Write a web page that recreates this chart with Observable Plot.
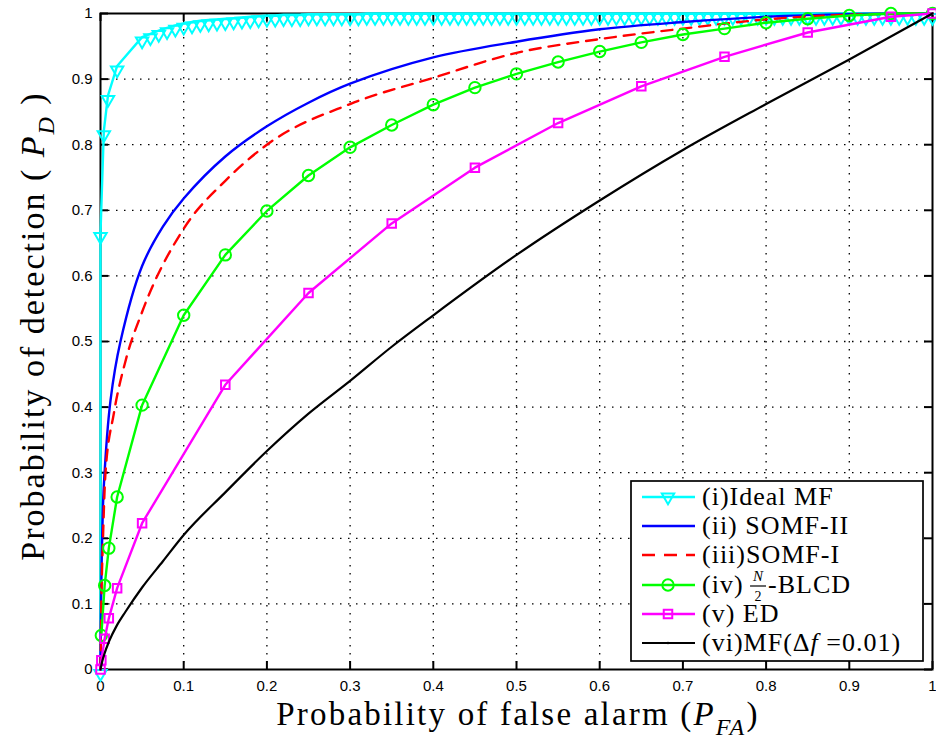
<!DOCTYPE html>
<html><head><meta charset="utf-8">
<script src="https://cdn.jsdelivr.net/npm/d3@7"></script>
<script src="https://cdn.jsdelivr.net/npm/@observablehq/plot@0.6"></script>
<style>html,body{margin:0;padding:0;background:#fff;} svg{display:block}</style>
</head><body><div id="chart"></div>
<script>
// ---------- data ----------
const axisTicks = [0, 0.1, 0.2, 0.3, 0.4, 0.5, 0.6, 0.7, 0.8, 0.9, 1];
const axisTickLabels = ["0", "0.1", "0.2", "0.3", "0.4", "0.5", "0.6", "0.7", "0.8", "0.9", "1"];

// (i) Ideal MF
const idealX = [0, 0, 0.004, 0.009, 0.02, 0.05, 0.06, 0.07, 0.08, 0.09, 0.10, 0.11, 0.12, 0.13, 0.14, 0.15, 0.16, 0.17, 0.18, 0.19, 0.20,
  0.21, 0.22, 0.23, 0.24, 0.25, 0.26, 0.27, 0.28, 0.29, 0.30, 0.31, 0.32, 0.33, 0.34, 0.35, 0.36, 0.37, 0.38, 0.39, 0.40,
  0.41, 0.42, 0.43, 0.44, 0.45, 0.46, 0.47, 0.48, 0.49, 0.50, 0.51, 0.52, 0.53, 0.54, 0.55, 0.56, 0.57, 0.58, 0.59, 0.60,
  0.61, 0.62, 0.63, 0.64, 0.65, 0.66, 0.67, 0.68, 0.69, 0.70, 0.71, 0.72, 0.73, 0.74, 0.75, 0.76, 0.77, 0.78, 0.79, 0.80,
  0.81, 0.82, 0.83, 0.84, 0.85, 0.86, 0.87, 0.88, 0.89, 0.90, 0.91, 0.92, 0.93, 0.94, 0.95, 0.96, 0.97, 0.98, 0.99, 1.00];
const idealY = [0, 0.666, 0.821, 0.875, 0.920, 0.964, 0.969, 0.974, 0.978, 0.982, 0.985, 0.987, 0.989, 0.990, 0.991, 0.992, 0.993, 0.994, 0.995, 0.996, 0.997,
  0.997, 0.998, 0.998, 0.998, 0.999, 0.999, 0.999, 0.999, 0.999, 0.999, 0.999, 1, 1, 1, 1, 1, 1, 1, 1, 1,
  1, 1, 1, 1, 1, 1, 1, 1, 1, 1, 1, 1, 1, 1, 1, 1, 1, 1, 1, 1,
  1, 1, 1, 1, 1, 1, 1, 1, 1, 1, 1, 1, 1, 1, 1, 1, 1, 1, 1, 1,
  1, 1, 1, 1, 1, 1, 1, 1, 1, 1, 1, 1, 1, 1, 1, 1, 1, 1, 1, 1];

// (ii) SOMF-II
const somf2X = [0, 0.001, 0.002, 0.004, 0.012, 0.024, 0.05, 0.075, 0.1, 0.15, 0.2, 0.25, 0.3, 0.4, 0.5, 0.6, 0.7, 0.8, 0.9, 1];
const somf2Y = [0, 0.13, 0.2, 0.28, 0.41, 0.50, 0.615, 0.675, 0.718, 0.782, 0.828, 0.864, 0.893, 0.933, 0.957, 0.976, 0.987, 0.995, 0.999, 1];

// (iii) SOMF-I
const somf1X = [0, 0.001, 0.003, 0.006, 0.016, 0.03, 0.05, 0.1, 0.15, 0.2, 0.3, 0.4, 0.5, 0.6, 0.7, 0.8, 0.9, 1];
const somf1Y = [0, 0.10, 0.20, 0.30, 0.39, 0.47, 0.545, 0.672, 0.745, 0.80, 0.862, 0.902, 0.94, 0.961, 0.977, 0.991, 0.998, 1];

// (iv) N/2-BLCD
const blcdX = [0.001, 0.005, 0.01, 0.02, 0.05, 0.1, 0.15, 0.2, 0.25, 0.3, 0.35, 0.4, 0.45, 0.5, 0.55, 0.6, 0.65, 0.7, 0.75, 0.8, 0.85, 0.9, 0.95, 1];
const blcdY = [0.052, 0.128, 0.185, 0.263, 0.403, 0.540, 0.632, 0.699, 0.753, 0.796, 0.830, 0.861, 0.887, 0.908, 0.926, 0.942, 0.956, 0.968, 0.977, 0.986, 0.992, 0.997, 1.0, 1.0];

// (v) ED
const edX = [0, 0.001, 0.005, 0.01, 0.02, 0.05, 0.15, 0.25, 0.35, 0.45, 0.55, 0.65, 0.75, 0.85, 0.95, 1];
const edY = [0, 0.014, 0.047, 0.078, 0.124, 0.223, 0.434, 0.574, 0.680, 0.765, 0.833, 0.889, 0.934, 0.971, 0.995, 1];

// (vi) MF (Δf = 0.01)
const mfX = [0, 0.002, 0.005, 0.01, 0.02, 0.03, 0.05, 0.075, 0.1, 0.15, 0.2, 0.25, 0.3, 0.35, 0.4, 0.5, 0.6, 0.7, 0.8, 0.9, 1];
const mfY = [0, 0.012, 0.025, 0.042, 0.068, 0.088, 0.125, 0.165, 0.205, 0.27, 0.333, 0.39, 0.44, 0.492, 0.54, 0.632, 0.715, 0.792, 0.862, 0.93, 1];

const legendPrefixes = ["(i)", "(ii) ", "(iii)", "(iv) ", "(v) ", "(vi)"];
const legendNames = ["Ideal MF", "SOMF-II", "SOMF-I", "-BLCD", "ED", "MF("];
const seriesColors = ["#00ffff", "#0000ff", "#ff0000", "#00ff00", "#ff00ff", "#000000"];

const xTitle = "Probability of false alarm (";
const yTitle = "Probability of detection ( ";

// ---------- build ----------
const pts = (xs, ys) => xs.map((x, i) => ({x, y: ys[i]}));
const ideal = pts(idealX, idealY), somf2 = pts(somf2X, somf2Y), somf1 = pts(somf1X, somf1Y);
const blcd = pts(blcdX, blcdY), ed = pts(edX, edY), mf = pts(mfX, mfY);

const W = 936, H = 749, mL = 100, mR = 4, mT = 13, mB = 80;
const fh = H - mT - mB, fw = W - mL - mR, tl = 8;
const fmt = d => { const i = axisTicks.indexOf(d); return i >= 0 ? axisTickLabels[i] : d3.format("~g")(d); };
const inner = axisTicks.slice(1, -1);
const SERIF = "Liberation Serif, Times New Roman, serif";

const plot = Plot.plot({
  width: W, height: H, marginLeft: mL, marginRight: mR, marginTop: mT, marginBottom: mB,
  x: {domain: [0, 1]}, y: {domain: [0, 1]},
  style: {fontFamily: "Liberation Sans, Arial, sans-serif", fontSize: "15px", color: "black", background: "white", overflow: "visible"},
  marks: [
    Plot.gridX(inner, {stroke: "black", strokeOpacity: 1, strokeWidth: 1.3, strokeDasharray: "1.5,6.5"}),
    Plot.gridY(inner, {stroke: "black", strokeOpacity: 1, strokeWidth: 1.3, strokeDasharray: "1.5,6.5"}),
    Plot.frame({stroke: "black", strokeWidth: 2}),
    Plot.tickX(axisTicks, {x: d => d, stroke: "black", strokeWidth: 2, insetTop: fh - tl}),
    Plot.tickX(axisTicks, {x: d => d, stroke: "black", strokeWidth: 2, insetBottom: fh - tl}),
    Plot.tickY(axisTicks, {y: d => d, stroke: "black", strokeWidth: 2, insetRight: fw - tl}),
    Plot.tickY(axisTicks, {y: d => d, stroke: "black", strokeWidth: 2, insetLeft: fw - tl}),
    Plot.axisX(axisTicks, {tickSize: 0, tickPadding: 11, tickFormat: fmt, label: null, fontSize: 15}),
    Plot.axisY(axisTicks, {tickSize: 0, tickPadding: 8, tickFormat: fmt, label: null, fontSize: 15}),
    // (i)
    Plot.line(ideal, {x: "x", y: "y", stroke: seriesColors[0], strokeWidth: 2.4}),
    Plot.dot(ideal, {x: "x", y: "y", symbol: "triangle", rotate: 180, r: 4.6, dy: 4, stroke: seriesColors[0], strokeWidth: 2, fill: "none"}),
    // (ii)
    Plot.line(somf2, {x: "x", y: "y", stroke: seriesColors[1], strokeWidth: 2.4, curve: "catmull-rom"}),
    // (iii)
    Plot.line(somf1, {x: "x", y: "y", stroke: seriesColors[2], strokeWidth: 2.4, strokeDasharray: "11,8", curve: "monotone-x"}),
    // (iv)
    Plot.line(blcd, {x: "x", y: "y", stroke: seriesColors[3], strokeWidth: 2.4}),
    Plot.dot(blcd, {x: "x", y: "y", r: 5.7, stroke: seriesColors[3], strokeWidth: 2, fill: "none"}),
    // (v)
    Plot.line(ed, {x: "x", y: "y", stroke: seriesColors[4], strokeWidth: 2.4}),
    Plot.dot(ed, {x: "x", y: "y", symbol: "square", r: 4.8, stroke: seriesColors[4], strokeWidth: 2, fill: "none"}),
    // (vi)
    Plot.line(mf, {x: "x", y: "y", stroke: seriesColors[5], strokeWidth: 2.2, curve: "monotone-x"})
  ]
});
document.getElementById("chart").appendChild(plot);

// ---------- titles ----------
const svg = d3.select(plot);
const g = svg.append("g").attr("font-family", SERIF).attr("fill", "black");
const xt = g.append("text").attr("x", 518).attr("y", 725).attr("text-anchor", "middle").attr("font-size", 33).attr("letter-spacing", "2.2px");
xt.append("tspan").text(xTitle);
xt.append("tspan").attr("font-style", "italic").text("P");
xt.append("tspan").attr("font-style", "italic").attr("font-size", 24).attr("dy", 10).text("FA");
xt.append("tspan").attr("dy", -10).text(")");

const yt = g.append("text").attr("transform", "translate(44,326) rotate(-90)").attr("text-anchor", "middle").attr("font-size", 34).attr("letter-spacing", "2px");
yt.append("tspan").text(yTitle);
yt.append("tspan").attr("font-style", "italic").text("P");
yt.append("tspan").attr("font-style", "italic").attr("font-size", 24).attr("dy", 10).text("D");
yt.append("tspan").attr("dy", -10).text(" )");

// ---------- legend ----------
const lg = svg.append("g").attr("text-anchor", "start");
lg.append("rect").attr("x", 631).attr("y", 481).attr("width", 292).attr("height", 180)
  .attr("fill", "white").attr("stroke", "black").attr("stroke-width", 1.7);
const rowY = [497, 526, 555, 585, 614, 643];
const lx1 = 642, lx2 = 695, mx = 668, tx = 702;
const legText = (x, y) => lg.append("text").attr("x", x).attr("y", y).attr("text-anchor", "start").attr("font-family", SERIF)
  .attr("font-size", 26).attr("letter-spacing", "1px").attr("fill", "black");
rowY.forEach((y, i) => {
  const c = seriesColors[i];
  const ln = lg.append("line").attr("x1", lx1).attr("x2", lx2).attr("y1", y).attr("y2", y)
    .attr("stroke", c).attr("stroke-width", i === 5 ? 2.2 : 2.4);
  if (i === 2) ln.attr("stroke-dasharray", "13,9");
  if (i === 0) lg.append("path").attr("d", d3.symbol(d3.symbolTriangle, Math.PI * 4.6 * 4.6)()).attr("transform", `translate(${mx},${y}) rotate(180)`)
    .attr("fill", "none").attr("stroke", c).attr("stroke-width", 2);
  if (i === 3) lg.append("circle").attr("cx", mx).attr("cy", y).attr("r", 5.7).attr("fill", "none").attr("stroke", c).attr("stroke-width", 2);
  if (i === 4) lg.append("path").attr("d", d3.symbol(d3.symbolSquare, Math.PI * 4.8 * 4.8)()).attr("transform", `translate(${mx},${y})`)
    .attr("fill", "none").attr("stroke", c).attr("stroke-width", 2);
  if (i === 5) lg.append("circle").attr("cx", mx).attr("cy", y).attr("r", 1.2).attr("fill", c);
  const t = legText(tx, y + 8);
  const p = t.append("tspan").text(legendPrefixes[i]);
  if (i === 3) {
    const w = p.node().getComputedTextLength();
    const fx = tx + w - 2;
    lg.append("text").attr("x", fx + 9).attr("y", y - 4).attr("text-anchor", "middle").attr("font-family", SERIF)
      .attr("font-size", 15).attr("font-style", "italic").text("N");
    lg.append("line").attr("x1", fx + 1).attr("x2", fx + 17).attr("y1", y + 1).attr("y2", y + 1).attr("stroke", "black").attr("stroke-width", 1.2);
    lg.append("text").attr("x", fx + 9).attr("y", y + 16).attr("text-anchor", "middle").attr("font-family", SERIF)
      .attr("font-size", 14).text("2");
    legText(fx + 19, y + 8).text(legendNames[i]);
  } else if (i === 5) {
    t.append("tspan").text(legendNames[i]);
    t.append("tspan").text("\u0394");
    t.append("tspan").attr("font-style", "italic").text("f");
    t.append("tspan").text(" =0.01)");
  } else {
    t.append("tspan").text(legendNames[i]);
  }
});
</script>
</body></html>
